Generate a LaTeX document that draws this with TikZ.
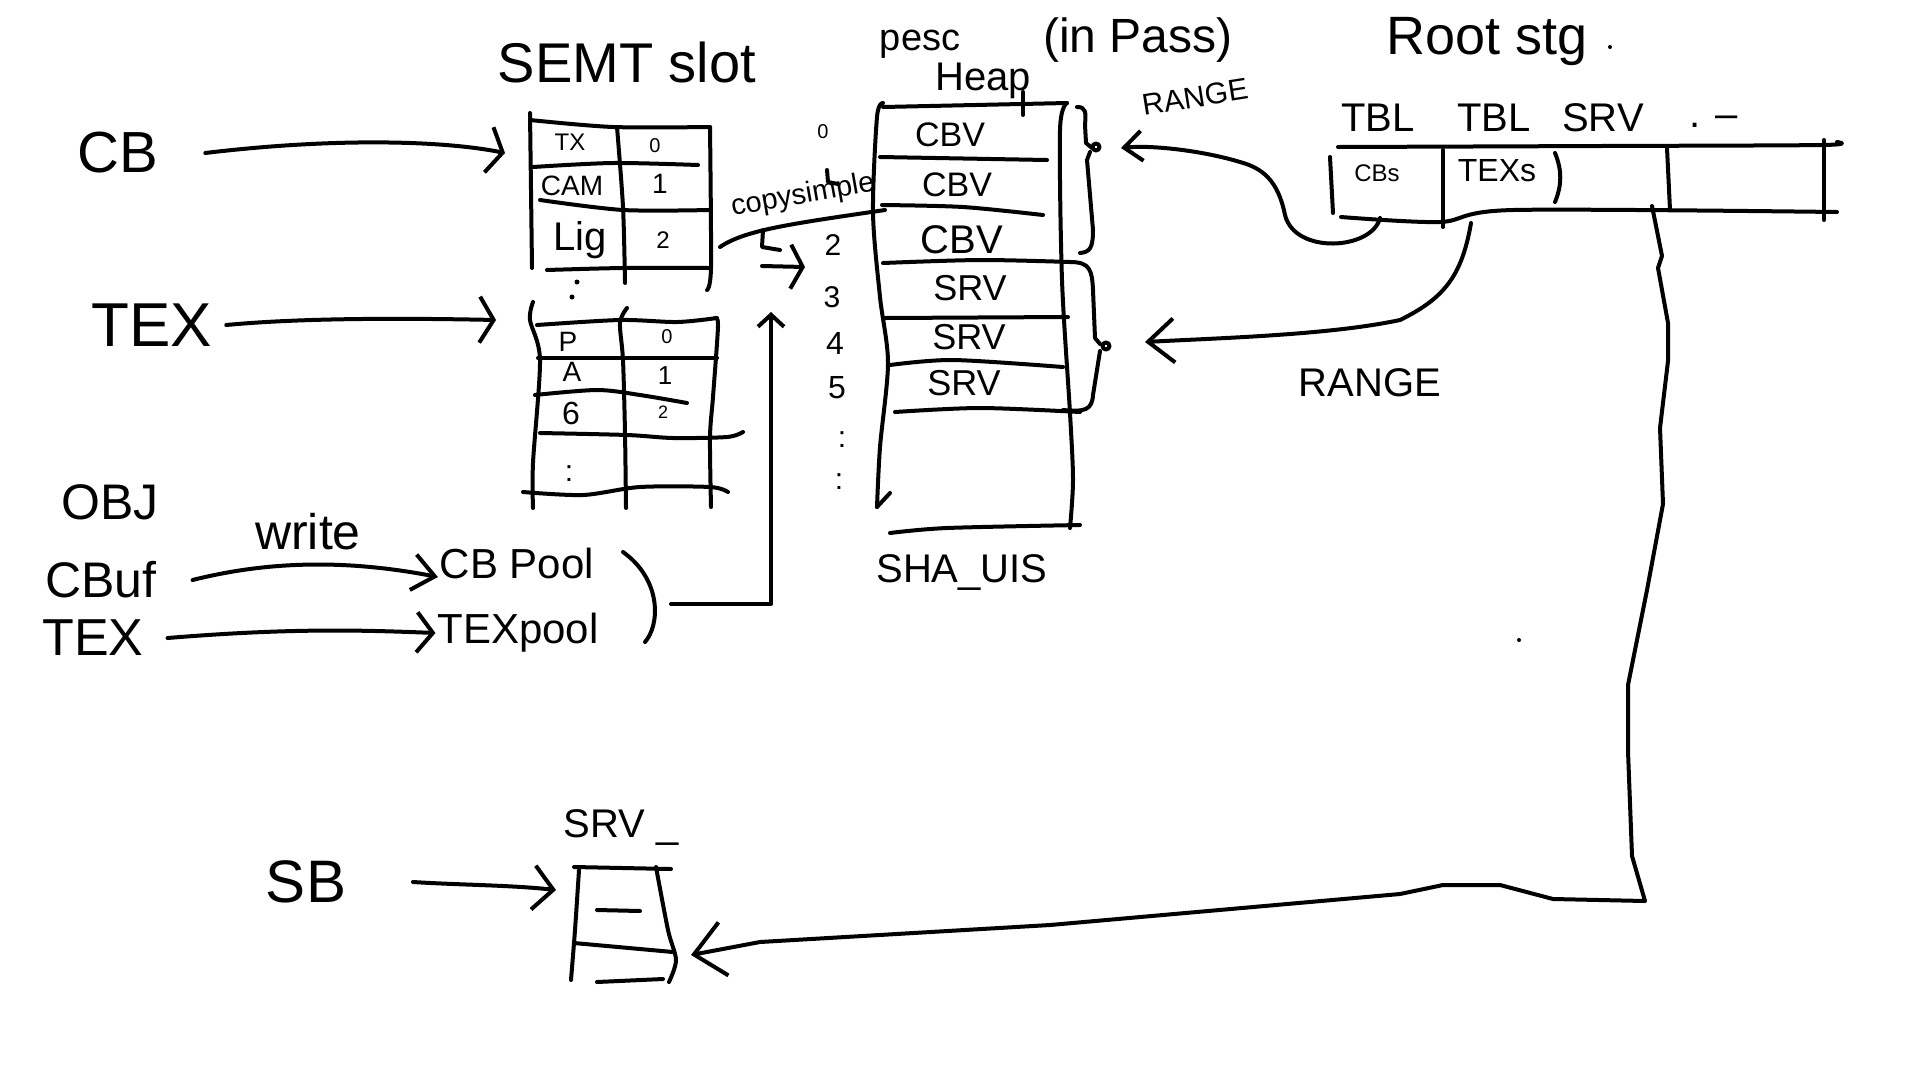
\documentclass[tikz,border=0pt]{standalone}
\usepackage{fontspec}
\setmainfont{Liberation Sans}
\usetikzlibrary{arrows.meta,positioning}
\tikzset{
  pen/.style={line width=4pt, line cap=round, line join=round},
  barb/.style 2 args={-{Straight Barb[length=#1,width=#2]}},
  lbl/.style={inner sep=0pt, font=\fontsize{#1}{#1}\selectfont},
}

\begin{document}
\begin{tikzpicture}[x=1pt, y=-1pt, pen]
\fill[white] (0,0) rectangle (1920,1080);
\useasboundingbox (0,0) rectangle (1920,1080);

% left labels
\node[lbl=58] (cb) at (118,153) {CB};
\node[lbl=62] (tex) at (152,325) {TEX};
\node[lbl=50] (obj) at (110,502) {OBJ};
\node[lbl=50] (cbuf) at (101,580) {CBuf};
\node[lbl=52] (texb) at (93,638) {TEX};
\node[lbl=60] (sb) at (306,882) {SB};
\node[lbl=50] (write) at (308,532) {write};

% SEMT slot tables
\node[lbl=56] (semtT) at (627,62) {SEMT slot};
\coordinate (semtIn) at (505,153);
\coordinate (semtIn2) at (496,320);
\draw plot[smooth] coordinates {(530,113) (531,190) (532,268)};
\draw plot[smooth] coordinates {(617,127) (623,207) (625,283)};
\draw plot[smooth] coordinates {(710,127) (711,267) (707,290)};
\draw plot[smooth] coordinates {(530,120) (613,127) (710,127)};
\draw plot[smooth] coordinates {(533,167) (613,163) (698,165)};
\draw plot[smooth] coordinates {(540,200) (623,210) (710,210)};
\draw plot[smooth] coordinates {(547,270) (623,268) (710,268)};
\node[lbl=24] (tx) at (570,142) {TX};
\node[lbl=20] (tx0) at (655,146) {0};
\node[lbl=28] (cam) at (572,186) {CAM};
\node[lbl=28] (cam1) at (660,184) {1};
\node[lbl=40] (lig) at (580,240) {Lig};
\node[lbl=24] (lig2) at (663,240) {2};
\fill (577,282) circle (2.5pt);
\fill (572,297) circle (2.5pt);

\draw plot[smooth] coordinates {(533,302) (530,320) (540,360) (533,463) (533,508)};
\draw plot[smooth] coordinates {(627,308) (620,323) (623,360) (625,433) (626,508)};
\draw plot[smooth] coordinates {(715,318) (718,326) (713,397) (710,437) (711,507)};
\draw plot[smooth] coordinates {(537,325) (620,320) (677,322) (717,318)};
\draw (538,358) -- (717,358);
\draw plot[smooth] coordinates {(535,395) (597,390) (640,395) (687,403)};
\draw plot[smooth] coordinates {(540,433) (627,435) (673,438) (727,437) (743,432)};
\draw plot[smooth] coordinates {(523,492) (583,495) (640,487) (710,487) (728,492)};
\node[lbl=28] (p) at (568,342) {P};
\node[lbl=20] (p0) at (667,337) {0};
\node[lbl=28] (a) at (572,372) {A};
\node[lbl=26] (a1) at (665,376) {1};
\node[lbl=32] (g) at (571,413) {6};
\node[lbl=18] (g2) at (663,412) {2};
\node[lbl=30] (tdots) at (569,474) {:};

\draw[barb={14pt}{46pt}] ([xshift=45pt]cb.east) .. controls (330,138) and (440,140) .. (semtIn);
\draw[barb={14pt}{46pt}] ([xshift=12pt]tex.east) .. controls (300,318) and (400,318) .. (semtIn2);

% heap
\node[lbl=38] (pesc) at (920,44) {pesc};
\node[lbl=40] (heapT) at (983,81) {Heap};
\node[lbl=48] (inpass) at (1138,40) {(in Pass)};
\node[lbl=30, rotate=9] (rangeA) at (1195,97) {RANGE};
\draw (1023,92) -- (1023,115);
\draw plot[smooth] coordinates {(883,103) (877,117) (873,213) (880,297) (888,363) (880,447) (877,507)};
\draw (877,507) -- (890,493);
\draw plot[smooth] coordinates {(1067,103) (1060,130) (1062,280) (1070,413) (1073,480) (1070,528)};
\draw (883,107) -- (1067,103);
\draw (880,157) -- (1047,160);
\draw plot[smooth] coordinates {(882,205) (963,207) (1043,215)};
\draw plot[smooth] coordinates {(883,263) (980,260) (1070,262)};
\draw (885,318) -- (1068,317);
\draw plot[smooth] coordinates {(890,365) (953,360) (1063,367)};
\draw plot[smooth] coordinates {(895,412) (980,408) (1080,412)};
\draw plot[smooth] coordinates {(890,533) (947,528) (1080,525)};
\node[lbl=34] (cbv1) at (950,135) {CBV};
\node[lbl=34] (cbv2) at (957,185) {CBV};
\node[lbl=40] (cbv3) at (962,240) {CBV};
\node[lbl=36] (srv1) at (970,288) {SRV};
\node[lbl=36] (srv2) at (969,337) {SRV};
\node[lbl=36] (srv3) at (964,383) {SRV};
\node[lbl=40] (sha) at (962,572) {SHA\_UIS};

% braces
\draw (1077,107) .. controls (1086,107) and (1086,112) .. (1085,125) -- (1086,143) -- (1092,148);
\draw (1096,147) circle (3.5pt);
\draw (1090,152) -- (1087,160) -- (1093,230) .. controls (1093,248) and (1090,252) .. (1080,253);
\draw (1070,262) .. controls (1090,262) and (1092,270) .. (1093,290) -- (1095,338) -- (1100,344);
\draw (1106,346) circle (3.5pt);
\draw (1100,351) -- (1093,395) .. controls (1092,410) and (1085,412) .. (1063,410);

% index column
\node[lbl=20] (i0) at (823,132) {0};
\draw (827,170) -- (828,182) -- (838,184);
\node[lbl=30] (i2) at (833,245) {2};
\node[lbl=30] (i3) at (832,297) {3};
\node[lbl=32] (i4) at (835,343) {4};
\node[lbl=32] (i5) at (837,388) {5};
\node[lbl=30] (idots1) at (842,440) {:};
\node[lbl=30] (idots2) at (839,482) {:};

% copy between slot table and heap
\coordinate (semtOut) at (720,247);
\coordinate (heapIn) at (885,210);
\draw (semtOut) .. controls (745,230) and (790,224) .. (heapIn);
\node[lbl=29, rotate=10] (copy) at (803,196) {copysimple};
\draw (763,230) -- (762,247) -- (780,250);
\draw[barb={12pt}{44pt}] (762,266) -- (805,267);

% pools
\node[lbl=42] (cbpool) at (517,563) {CB Pool};
\node[lbl=42] (texpool) at (518,633) {TEXpool};
\draw[barb={22pt}{36pt}] ([xshift=34pt]cbuf.east) .. controls (280,558) and (360,562) .. ([yshift=-14pt]cbpool.west);
\draw[barb={16pt}{40pt}] ([xshift=22pt]texb.east) .. controls (290,628) and (360,630) .. (texpool.west);
\draw (623,552) .. controls (662,580) and (660,625) .. (645,642);
\coordinate (poolJ) at (671,604);
\coordinate (upTip) at (771,312);
\draw[barb={12pt}{26pt}] (poolJ) -| (upTip);

% root table
\node[lbl=54] (rootT) at (1487,42) {Root stg};
\fill (1610,47) circle (2pt);
\node[lbl=40] (tbl1) at (1378,118) {TBL};
\node[lbl=40] (tbl2) at (1494,118) {TBL};
\node[lbl=40] (srvH) at (1603,118) {SRV};
\node[lbl=40] (more) at (1714,122) {. --};
\draw plot[smooth] coordinates {(1338,147) (1600,146) (1822,145) (1837,142)};
\draw plot[smooth] coordinates {(1341,217) (1440,222) (1513,210) (1837,212)};
\draw (1330,157) -- (1333,213);
\draw (1443,150) -- (1443,227);
\draw (1555,153) .. controls (1562,170) and (1562,185) .. (1555,202);
\draw (1667,148) -- (1670,210);
\draw (1824,140) -- (1824,220);
\node[lbl=24] (cbs) at (1377,173) {CBs};
\node[lbl=32] (texs) at (1497,171) {TEXs};

% range arrows
\coordinate (cbsOut) at (1380,218);
\coordinate (braceA) at (1121,148);
\draw[barb={18pt}{30pt}] (cbsOut) .. controls (1372,250) and (1295,255) .. (1285,215) .. controls (1278,180) and (1262,168) .. (1240,162) .. controls (1200,150) and (1150,145) .. (braceA);
\coordinate (texsOut) at (1471,223);
\coordinate (braceB) at (1145,342);
\draw[barb={26pt}{44pt}] (texsOut) .. controls (1462,275) and (1445,298) .. (1400,320) .. controls (1330,335) and (1220,338) .. (braceB);
\node[lbl=40] (rangeB) at (1370,383) {RANGE};
\fill (1519,640) circle (2pt);

% SRV block
\node[lbl=40] (srvT) at (621,827) {SRV \_};
\coordinate (srvOut) at (1652,206);
\coordinate (srvIn) at (691,955);
\coordinate (srvSide) at (556,890);
\draw plot[smooth] coordinates {(579,870) (575,930) (571,980)};
\draw plot[smooth] coordinates {(656,867) (668,930) (676,960) (669,982)};
\draw (574,867) -- (671,869);
\draw (597,910) -- (640,911);
\draw (574,943) -- (673,952);
\draw (597,982) -- (663,979);
\draw[barb={20pt}{44pt}] ([xshift=65pt]sb.east) .. controls (460,885) and (510,885) .. (srvSide);
\draw[barb={30pt}{54pt}] (srvOut) -- (1662,256) -- (1658,268) -- (1668,323) -- (1668,361) -- (1660,428) -- (1663,504) -- (1647,590) -- (1628,685) -- (1628,751) -- (1632,856) -- (1645,901) -- (1553,899) -- (1500,885) -- (1443,885) -- (1400,894) -- (1050,925) -- (760,942) -- (srvIn);
\end{tikzpicture}
\end{document}
